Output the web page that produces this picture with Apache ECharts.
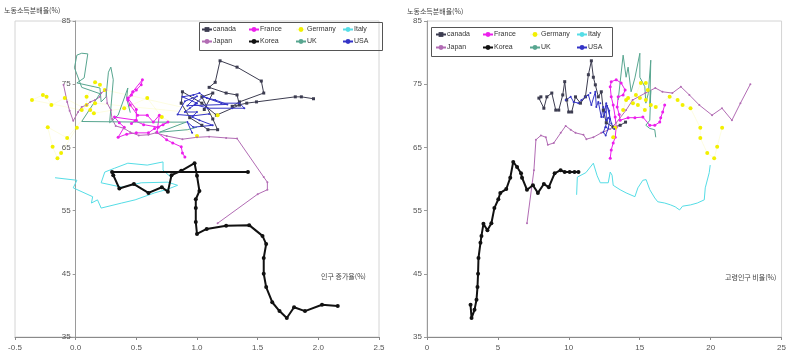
<!DOCTYPE html>
<html>
<head>
<meta charset="utf-8">
<script src="https://cdn.jsdelivr.net/npm/echarts@6/dist/echarts.min.js"></script>
<style>
html,body{margin:0;padding:0;background:#fff;}
#chart{width:789px;height:358px;}
</style>
</head>
<body>
<div id="chart"></div>
<script>
// Labour income share (%) against population growth rate (%) and elderly population ratio (%)

const countries = ['canada', 'France', 'Germany', 'Italy', 'Japan', 'Korea', 'UK', 'USA'];

// [population growth %, labour income share %]
const canadaByGrowth = [[1.96,72.7],[1.86,73.0],[1.81,73.0],[1.49,72.2],[1.41,72.0],[1.29,71.5],[1.35,72.2],[1.55,73.6],[1.53,75.5],[1.33,77.7],[1.19,78.7],[1.15,75.3],[1.10,74.5],[1.24,73.6],[1.33,73.3],[1.35,71.7],[1.16,70.1],[1.04,72.0],[0.88,73.8],[0.87,72.0],[0.94,69.7],[1.04,68.5],[1.09,67.8],[1.17,67.8],[1.13,69.5],[1.04,73.0],[1.13,73.6],[1.06,71.0]];
const franceByGrowth = [[0.90,63.5],[0.88,64.1],[0.87,65.1],[0.80,65.7],[0.75,66.2],[0.67,67.4],[0.69,70.1],[0.64,69.0],[0.59,70.1],[0.51,70.1],[0.45,71.7],[0.43,72.5],[0.46,73.3],[0.50,74.1],[0.54,74.9],[0.55,75.7],[0.47,73.8],[0.43,72.8],[0.50,71.0],[0.50,69.3],[0.32,69.8],[0.36,68.9],[0.40,68.2],[0.35,66.6],[0.42,67.1],[0.50,67.3],[0.60,67.3],[0.65,68.0],[0.72,68.6],[0.76,69.0],[0.68,68.2],[0.56,68.6],[0.49,69.2],[0.46,68.8]];
const germanyByGrowth = [[1.00,66.8],[0.71,69.8],[0.59,72.8],[0.40,71.2],[0.15,70.4],[-0.09,72.8],[-0.20,71.7],[-0.24,73.0],[-0.27,73.3],[-0.36,72.5],[0.05,70.9],[0.09,71.7],[0.09,73.0],[0.16,75.3],[0.20,74.9],[0.24,74.1],[1.17,70.1],[0.16,72.0],[0.12,70.9],[-0.07,66.5],[-0.23,68.2],[-0.19,65.1],[-0.15,63.3],[-0.12,64.1],[0.01,68.1]];
const italyByGrowth = [[0.79,60.2],[0.72,61.4],[0.72,62.7],[0.59,62.2],[0.43,62.5],[0.32,61.7],[0.24,61.1],[0.21,59.4],[0.38,58.7],[0.54,59.4],[0.76,59.5],[0.84,59.0],[0.76,58.4],[0.65,57.8],[0.49,56.7],[0.38,56.2],[0.21,55.4],[0.18,56.7],[0.13,56.2],[0.14,57.2],[-0.02,58.6],[0.01,59.8],[-0.17,60.2]];
const japanByGrowth = [[1.17,53.0],[1.50,57.6],[1.58,58.3],[1.58,59.5],[1.55,60.3],[1.33,66.4],[1.24,66.5],[1.10,66.7],[1.00,66.6],[0.88,66.3],[0.75,66.8],[0.66,67.3],[0.60,67.0],[0.52,66.9],[0.45,67.4],[0.40,68.0],[0.33,68.4],[0.30,69.5],[0.29,70.9],[0.26,72.0],[0.25,74.1],[0.21,73.6],[0.20,73.0],[0.16,72.5],[0.12,72.2],[0.09,71.7],[0.05,71.4],[0.02,70.6],[-0.02,69.2],[-0.05,70.8],[-0.07,72.2],[-0.10,74.9]];
const koreaByGrowth = [[2.16,39.9],[2.03,40.1],[1.89,39.1],[1.80,39.7],[1.74,38.0],[1.68,39.1],[1.62,40.5],[1.57,42.9],[1.55,45.0],[1.55,47.5],[1.57,49.7],[1.54,51.0],[1.43,52.7],[1.24,52.6],[1.08,52.1],[1.00,51.3],[0.99,53.2],[0.99,55.4],[0.99,56.8],[1.02,58.1],[1.00,60.5],[0.98,62.5],[0.87,61.3],[0.79,60.6],[0.76,58.0],[0.71,58.7],[0.60,57.8],[0.48,59.2],[0.36,58.5],[0.31,60.6],[0.30,61.1],[1.42,61.1]];
const ukByGrowth = [[0.45,70.5],[0.42,72.8],[0.43,74.4],[0.35,70.1],[0.28,68.9],[0.31,75.7],[0.29,77.7],[0.27,76.9],[0.25,73.0],[0.21,72.2],[0.20,74.4],[0.01,75.2],[0.07,76.0],[0.10,79.8],[0.05,79.9],[0.01,79.6],[-0.01,77.6],[0.05,74.5],[0.20,73.5],[0.05,69.1],[0.55,69.0],[0.91,69.0],[0.69,67.4],[0.92,67.8],[1.00,68.2]];
const usaByGrowth = [[0.96,67.3],[0.92,69.0],[0.97,68.2],[1.13,68.5],[1.02,69.3],[0.96,69.8],[1.00,70.6],[0.90,70.6],[0.94,71.2],[1.00,72.0],[0.88,73.0],[0.97,73.3],[1.02,73.6],[1.08,72.8],[1.20,72.0],[1.35,72.0],[1.39,71.2],[1.29,71.2],[1.09,71.2],[0.98,71.8],[1.05,73.0],[1.15,72.5],[1.25,71.8],[0.92,71.6],[1.00,73.1],[0.90,72.3],[0.84,70.2],[0.97,70.0],[1.10,70.3]];

// [elderly population ratio %, labour income share %]
const canadaByAged = [[7.89,72.8],[8.03,73.0],[8.24,71.2],[8.45,73.0],[8.80,73.6],[9.08,70.9],[9.29,70.9],[9.57,73.3],[9.71,75.4],[9.85,72.5],[9.99,70.6],[10.20,70.6],[10.47,73.0],[10.82,72.0],[11.17,73.0],[11.38,76.5],[11.59,78.7],[11.73,76.1],[11.87,74.9],[12.08,73.0],[12.29,73.8],[12.43,70.9],[12.64,68.9],[13.13,68.2],[13.62,68.5],[14.0,69.0]];
const franceByAged = [[12.92,63.3],[12.99,64.6],[13.13,65.7],[13.27,66.6],[13.34,68.2],[13.27,69.8],[13.13,71.7],[12.99,73.0],[12.92,74.6],[12.99,75.4],[13.34,75.7],[13.69,75.2],[13.97,74.1],[13.83,73.3],[13.48,73.0],[13.41,71.4],[13.55,70.2],[13.62,69.3],[14.18,69.7],[14.66,69.7],[15.22,69.8],[15.71,68.5],[16.06,68.5],[16.41,69.0],[16.48,69.7],[16.62,70.6],[16.76,71.7]];
const germanyByAged = [[13.13,66.6],[13.27,68.1],[13.83,70.9],[14.04,72.5],[14.73,73.3],[15.08,75.2],[15.43,75.2],[15.57,74.1],[15.43,72.5],[15.01,72.8],[14.52,72.0],[14.18,72.8],[14.87,71.7],[15.36,70.9],[15.78,71.7],[16.13,71.4],[17.11,73.0],[17.67,72.5],[18.02,71.7],[18.58,71.2],[19.27,68.1],[19.27,66.5],[19.76,64.1],[20.25,63.3],[20.46,65.1],[20.81,68.1]];
const italyByAged = [[10.55,57.5],[10.60,60.3],[11.20,61.0],[11.73,62.5],[12.00,60.5],[12.22,59.4],[12.78,59.4],[12.92,61.1],[13.05,60.6],[13.13,59.0],[13.62,58.3],[14.04,57.8],[14.66,57.2],[14.87,58.6],[15.22,59.8],[15.45,59.9],[15.71,58.3],[16.06,57.0],[16.27,56.4],[16.76,56.2],[17.18,55.9],[17.50,55.6],[17.81,55.1],[18.02,55.7],[18.58,55.9],[19.06,56.2],[19.55,56.7],[19.62,58.6],[19.90,61.0],[19.97,62.2]];
const japanByAged = [[7.05,53.0],[7.54,61.4],[7.68,66.2],[8.03,66.9],[8.38,66.6],[8.52,65.4],[8.94,65.7],[9.43,67.3],[9.78,68.4],[10.13,67.8],[10.47,67.3],[11.03,67.0],[11.24,66.3],[11.73,66.6],[12.29,67.3],[12.92,67.9],[13.34,68.9],[14.04,70.9],[14.50,72.5],[15.40,73.6],[16.10,74.4],[16.60,73.8],[17.30,73.6],[17.90,74.6],[18.50,73.3],[19.20,71.7],[20.10,70.1],[20.80,71.2],[21.50,69.3],[22.10,72.0],[22.80,75.0]];
const koreaByAged = [[3.07,40.1],[3.14,38.0],[3.35,39.3],[3.49,40.9],[3.56,42.9],[3.60,45.0],[3.63,47.5],[3.77,49.9],[3.84,51.0],[3.98,52.9],[4.26,51.9],[4.54,53.0],[4.75,55.4],[5.03,56.8],[5.17,57.8],[5.59,58.4],[5.87,60.2],[6.08,62.7],[6.35,61.9],[6.63,60.9],[6.70,60.2],[7.05,58.3],[7.47,59.0],[7.82,57.8],[8.24,59.2],[8.59,58.7],[9.00,60.9],[9.42,61.4],[9.71,61.1],[10.06,61.1],[10.40,61.1],[10.68,61.1]];
const ukByAged = [[13.48,72.5],[13.83,79.6],[14.04,76.1],[14.18,77.7],[14.39,73.8],[14.66,76.0],[15.01,79.9],[15.01,76.1],[15.36,74.6],[15.43,72.0],[15.60,73.5],[15.78,78.8],[15.71,71.4],[15.78,74.0],[15.71,69.3],[15.43,68.5],[15.70,68.0],[16.06,67.8],[16.13,66.6]];
const usaByAged = [[9.78,72.5],[10.13,73.0],[10.34,72.2],[10.68,72.0],[10.89,72.5],[11.17,73.0],[11.38,73.3],[11.52,73.6],[11.59,71.7],[11.87,73.8],[11.94,71.4],[12.08,72.2],[12.22,72.0],[12.29,69.8],[12.43,71.4],[12.57,70.6],[12.43,69.8],[12.64,72.0],[12.64,69.3],[12.78,69.7],[12.57,68.2],[12.64,68.2],[12.43,67.4],[12.60,66.9],[12.78,68.0],[12.90,69.5],[12.85,70.8],[12.70,71.6],[13.00,68.8],[13.20,67.9]];

const growthTicks = [-0.5, 2.5, 0.5];
const agedTicks = [0, 25, 5];
const shareTicks = [35, 85, 10];

const yTitle = '노동소득분배율(%)';
const growthTitle = '인구 증가율(%)';
const agedTitle = '고령인구 비율(%)';

const byGrowth = [canadaByGrowth, franceByGrowth, germanyByGrowth, italyByGrowth, japanByGrowth, koreaByGrowth, ukByGrowth, usaByGrowth];
const byAged = [canadaByAged, franceByAged, germanyByAged, italyByAged, japanByAged, koreaByAged, ukByAged, usaByAged];

// per-country drawing style
const looks = {
  canada:  {color:'#3c3c50', width:1, symbol:'rect',   size:3, lineOpacity:1},
  France:  {color:'#ec1fec', width:1, symbol:'circle', size:3, lineOpacity:1},
  Germany: {color:'#f2f000', width:1, symbol:'circle', size:4, lineOpacity:0.12},
  Italy:   {color:'#55dde6', width:1, symbol:'none',   size:0, lineOpacity:1},
  Japan:   {color:'#b26cb4', width:1, symbol:'circle', size:2, lineOpacity:1},
  Korea:   {color:'#111111', width:2, symbol:'circle', size:4, lineOpacity:1},
  UK:      {color:'#58a690', width:1, symbol:'none',   size:0, lineOpacity:1},
  USA:     {color:'#3434c6', width:1, symbol:'circle', size:2, lineOpacity:1}
};

const FONT = '"Liberation Sans Narrow", "Liberation Sans", Arial, sans-serif';
const KFONT = '"Noto Sans CJK KR", "Noto Sans", sans-serif';

const GRID_L = {left: 15, top: 21, width: 364, height: 316};
const GRID_R = {left: 427, top: 21, width: 358, height: 316};

function makeSeries(list, axisIndex) {
  return countries.map((name, i) => {
    const lk = looks[name];
    return {
      type: 'line',
      name: name,
      xAxisIndex: axisIndex,
      yAxisIndex: axisIndex,
      data: list[i],
      symbol: lk.symbol,
      symbolSize: lk.size,
      showSymbol: lk.symbol !== 'none',
      color: lk.color,
      lineStyle: {color: lk.color, width: lk.width, opacity: lk.lineOpacity},
      itemStyle: {color: lk.color},
      z: name === 'Korea' ? 5 : 3,
      silent: true
    };
  });
}

function xAxisFor(gridIndex, t, fmt) {
  return {
    type: 'value', gridIndex: gridIndex, min: t[0], max: t[1], interval: t[2],
    axisLine: {show: true, onZero: false, lineStyle: {color: '#8a8a8a', width: 1}},
    axisTick: {show: true, length: 3, lineStyle: {color: '#8a8a8a'}},
    axisLabel: {fontSize: 8, color: '#555', fontFamily: FONT, margin: 7, formatter: fmt},
    splitLine: {show: false}
  };
}

// the share axis stands at x = 0 of its own chart
function yAxisFor(gridIndex, xt, width) {
  const zeroOffset = -width * (0 - xt[0]) / (xt[1] - xt[0]);
  return {
    type: 'value', gridIndex: gridIndex, min: shareTicks[0], max: shareTicks[1], interval: shareTicks[2],
    offset: zeroOffset,
    axisLine: {show: true, onZero: false, lineStyle: {color: '#9a9a9a', width: 1}},
    axisTick: {show: true, length: 3, lineStyle: {color: '#9a9a9a'}},
    axisLabel: {fontSize: 8, color: '#555', fontFamily: FONT, margin: 5},
    splitLine: {show: false}
  };
}

// one legend component per entry, laid out as 4 columns x 2 rows
function legendsFor(x0, y0, colW, rowH) {
  return countries.map((name, i) => ({
    data: [name],
    left: x0 + (i % 4) * colW,
    top: y0 + Math.floor(i / 4) * rowH,
    padding: 0,
    itemWidth: 10,
    itemHeight: 6,
    itemGap: 0,
    selectedMode: false,
    textStyle: {fontSize: 7, color: '#333', fontFamily: FONT, padding: [0, 0, 0, -4]}
  }));
}

const chart = echarts.init(document.getElementById('chart'), null, {renderer: 'canvas'});

chart.setOption({
  animation: false,
  backgroundColor: '#ffffff',
  grid: [
    Object.assign({show: true, borderColor: '#d4d4d4', borderWidth: 1}, GRID_L),
    Object.assign({show: true, borderColor: '#d4d4d4', borderWidth: 1}, GRID_R)
  ],
  xAxis: [
    xAxisFor(0, growthTicks, v => v.toFixed(1)),
    xAxisFor(1, agedTicks, v => String(v))
  ],
  yAxis: [yAxisFor(0, growthTicks, GRID_L.width), yAxisFor(1, agedTicks, GRID_R.width)],
  legend: legendsFor(201, 26, 47, 12).concat(legendsFor(435, 31, 47, 13)),
  graphic: [
    {type: 'rect', shape: {x: 199.5, y: 22.5, width: 183, height: 28}, style: {fill: 'none', stroke: '#555', lineWidth: 1}, z: 10},
    {type: 'rect', shape: {x: 431.5, y: 27.5, width: 181, height: 29}, style: {fill: 'none', stroke: '#555', lineWidth: 1}, z: 10},
    {type: 'text', left: 4, top: 7, style: {text: yTitle, fontSize: 7, fill: '#444', fontFamily: KFONT}},
    {type: 'text', left: 407, top: 8, style: {text: yTitle, fontSize: 7, fill: '#444', fontFamily: KFONT}},
    {type: 'text', left: 321, top: 273, style: {text: growthTitle, fontSize: 7, fill: '#444', fontFamily: KFONT}},
    {type: 'text', left: 725, top: 274, style: {text: agedTitle, fontSize: 7, fill: '#444', fontFamily: KFONT}}
  ],
  series: makeSeries(byGrowth, 0).concat(makeSeries(byAged, 1))
});
</script>
</body>
</html>
